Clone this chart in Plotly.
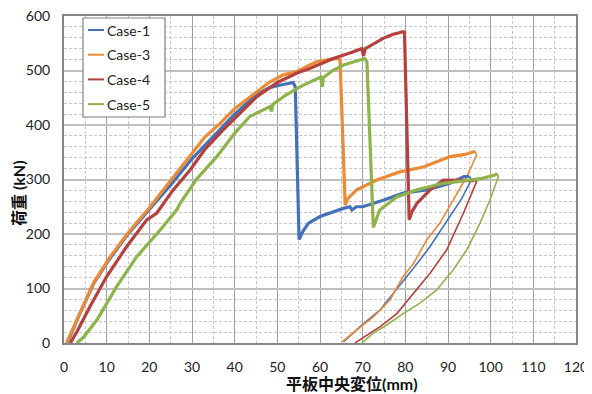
import plotly.graph_objects as go

# ---------------- data ----------------
case_names = ["Case-1", "Case-3", "Case-4", "Case-5"]
case_colors = ["#4472B8", "#EC8A35", "#B5403D", "#8DB34A"]

case1_load_x = [0.8, 3.5, 7.0, 10.5, 15.0, 20.0, 25.0, 30.0, 35.0, 40.0, 45.0, 48.0, 50.0, 52.0, 53.7, 54.2,
                55.1, 56.0, 57.3, 60.0, 62.0, 65.5, 67.0, 67.5, 68.5, 70.0, 74.8, 79.5, 85.0, 90.5, 93.6, 95.0]
case1_load_y = [0, 50, 110, 152, 200, 245, 290, 338, 380, 420, 455, 468, 472, 476, 478, 470,
                190, 205, 220, 232, 238, 247, 250, 244, 250, 250, 262, 275, 281, 293, 305, 306]
case1_unload_x = [95.0, 95.5, 93.2, 89.7, 85.8, 81.9, 78.0, 74.1, 69.4, 65.5]
case1_unload_y = [306, 300, 265, 223, 177, 137, 100, 61, 30, 2]

case3_load_x = [0.6, 3.7, 6.9, 10.8, 15.5, 20.2, 25.0, 29.5, 33.0, 36.6, 40.0, 45.2, 48.0, 51.4, 54.5, 57.0,
                59.2, 62.0, 64.3, 64.7, 65.9, 66.5, 68.6, 73.3, 78.7, 84.2, 90.5, 94.0, 96.3]
case3_load_y = [0, 54, 110, 158, 207, 250, 298, 342, 378, 403, 430, 461, 478, 492, 498, 508,
                516, 520, 522, 519, 253, 265, 281, 299, 314, 323, 342, 346, 352]
case3_unload_x = [96.3, 96.7, 94.4, 91.2, 88.1, 85.0, 81.9, 79.5, 76.4, 72.5, 68.6, 65.1]
case3_unload_y = [352, 345, 305, 262, 220, 189, 146, 122, 79, 48, 24, 2]

case4_load_x = [1.5, 3.0, 6.1, 10.0, 14.7, 19.4, 21.7, 25.5, 29.5, 33.0, 37.3, 41.0, 45.2, 50.0, 54.5, 58.0,
                63.1, 67.0, 69.8, 70.2, 70.6, 74.8, 77.0, 79.5, 79.8, 80.9, 81.5, 82.7, 85.8, 88.9, 91.0, 93.6, 96.0]
case4_load_y = [0, 20, 67, 122, 177, 226, 238, 280, 317, 355, 391, 420, 452, 478, 495, 505,
                522, 532, 540, 527, 540, 559, 566, 571, 570, 226, 240, 256, 281, 299, 299, 299, 298]
case4_unload_x = [96.0, 96.7, 93.6, 89.7, 85.8, 81.9, 78.0, 74.1, 69.4, 68.2]
case4_unload_y = [298, 296, 238, 171, 128, 91, 54, 30, 5, 0]

case5_load_x = [3.0, 4.5, 7.7, 12.3, 17.0, 22.5, 26.4, 27.2, 31.0, 35.8, 40.0, 43.6, 46.0, 48.3, 48.6, 49.0,
                52.0, 55.3, 58.0, 60.2, 60.5, 60.8, 63.0, 65.5, 68.0, 70.5, 71.0, 72.5, 74.0, 78.0, 82.7, 88.9,
                95.1, 98.0, 101.0, 101.5]
case5_load_y = [0, 10, 42, 103, 158, 207, 244, 256, 300, 342, 385, 416, 425, 434, 425, 438,
                455, 470, 480, 488, 470, 487, 500, 510, 516, 522, 516, 212, 244, 268, 281, 293,
                299, 302, 308, 311]
case5_unload_x = [101.5, 101.8, 99.8, 97.5, 94.4, 91.2, 87.3, 83.4, 79.5, 75.6, 72.5, 69.8]
case5_unload_y = [311, 305, 262, 220, 171, 134, 97, 73, 54, 33, 18, 0]

x_ticks = [0, 10, 20, 30, 40, 50, 60, 70, 80, 90, 100, 110, 120]
y_ticks = [0, 100, 200, 300, 400, 500, 600]
x_title = "平板中央変位(mm)"
y_title = "荷重 (kN)"

loads = [(case1_load_x, case1_load_y), (case3_load_x, case3_load_y),
         (case4_load_x, case4_load_y), (case5_load_x, case5_load_y)]
unloads = [(case1_unload_x, case1_unload_y), (case3_unload_x, case3_unload_y),
           (case4_unload_x, case4_unload_y), (case5_unload_x, case5_unload_y)]

FONT = "Lato, 'Noto Sans CJK JP', sans-serif"

fig = go.Figure()
for name, color, (ux, uy) in zip(case_names, case_colors, unloads):
    fig.add_trace(go.Scatter(x=ux, y=uy, mode="lines", name=name, showlegend=False,
                             line=dict(color=color, width=1.6)))
for name, color, (lx, ly) in zip(case_names, case_colors, loads):
    fig.add_trace(go.Scatter(x=lx, y=ly, mode="lines", name=name, showlegend=False,
                             line=dict(color=color, width=3.2)))

# page offset: the browser page has an 8px body margin
PAGE_OFF = 8
# plot area in page pixels
L, R, T, B = 64, 576, 16, 343
def px(xp):
    return (xp - L) / (R - L)
def py(yp):
    return (B - yp) / (B - T)

fig.add_shape(type="rect", xref="paper", yref="paper",
              x0=px(83), x1=px(165), y0=py(117), y1=py(18),
              line=dict(color="#7F7F7F", width=1.2), fillcolor="white", layer="above")
for i, (name, color) in enumerate(zip(case_names, case_colors)):
    yc = 30 + i * 24.7
    fig.add_shape(type="line", xref="paper", yref="paper",
                  x0=px(88), x1=px(104), y0=py(yc), y1=py(yc),
                  line=dict(color=color, width=2), layer="above")
    fig.add_annotation(xref="paper", yref="paper", x=px(105), y=py(yc), text=name,
                       showarrow=False, xanchor="left", yanchor="middle",
                       font=dict(family=FONT, size=14, color="#222222"))

fig.add_annotation(xref="paper", yref="paper", x=px(352), y=py(383.5), text="<b>" + x_title + "</b>",
                   showarrow=False, xanchor="center", yanchor="middle",
                   font=dict(family=FONT, size=16, color="#111111"))
fig.add_annotation(xref="paper", yref="paper", x=px(18), y=py(193), text="<b>" + y_title + "</b>",
                   showarrow=False, xanchor="center", yanchor="middle", textangle=-90,
                   font=dict(family=FONT, size=16, color="#111111"))

fig.update_layout(
    width=592 - PAGE_OFF, height=394 - PAGE_OFF,
    margin=dict(l=L - PAGE_OFF, r=592 - R, t=T - PAGE_OFF, b=394 - B, autoexpand=False),
    paper_bgcolor="white", plot_bgcolor="white",
    font=dict(family=FONT, size=14, color="#222222"),
    showlegend=False,
)
fig.update_xaxes(range=[0, 120], tickvals=x_ticks, ticktext=[str(v) for v in x_ticks],
                 automargin=False, ticklabeloverflow="allow",
                 showgrid=True, gridcolor="#A0A0A0", gridwidth=1,
                 minor=dict(dtick=5, showgrid=True, gridcolor="#C8C8C8", griddash="3px,2px", gridwidth=1),
                 showline=True, linecolor="#868686", linewidth=2, mirror=True,
                 ticks="outside", ticklen=10, tickcolor="rgba(0,0,0,0)", zeroline=False,
                 tickfont=dict(size=14))
fig.update_yaxes(range=[0, 600], tickvals=y_ticks, ticktext=[str(v) for v in y_ticks],
                 automargin=False, ticklabeloverflow="allow",
                 showgrid=True, gridcolor="#C0C0C0", gridwidth=2,
                 minor=dict(dtick=20, showgrid=True, gridcolor="#C8C8C8", griddash="3px,2px", gridwidth=1),
                 showline=True, linecolor="#868686", linewidth=2, mirror=True,
                 ticks="outside", ticklen=9, tickcolor="rgba(0,0,0,0)", zeroline=False,
                 tickfont=dict(size=14))

fig.write_html("out.html")
